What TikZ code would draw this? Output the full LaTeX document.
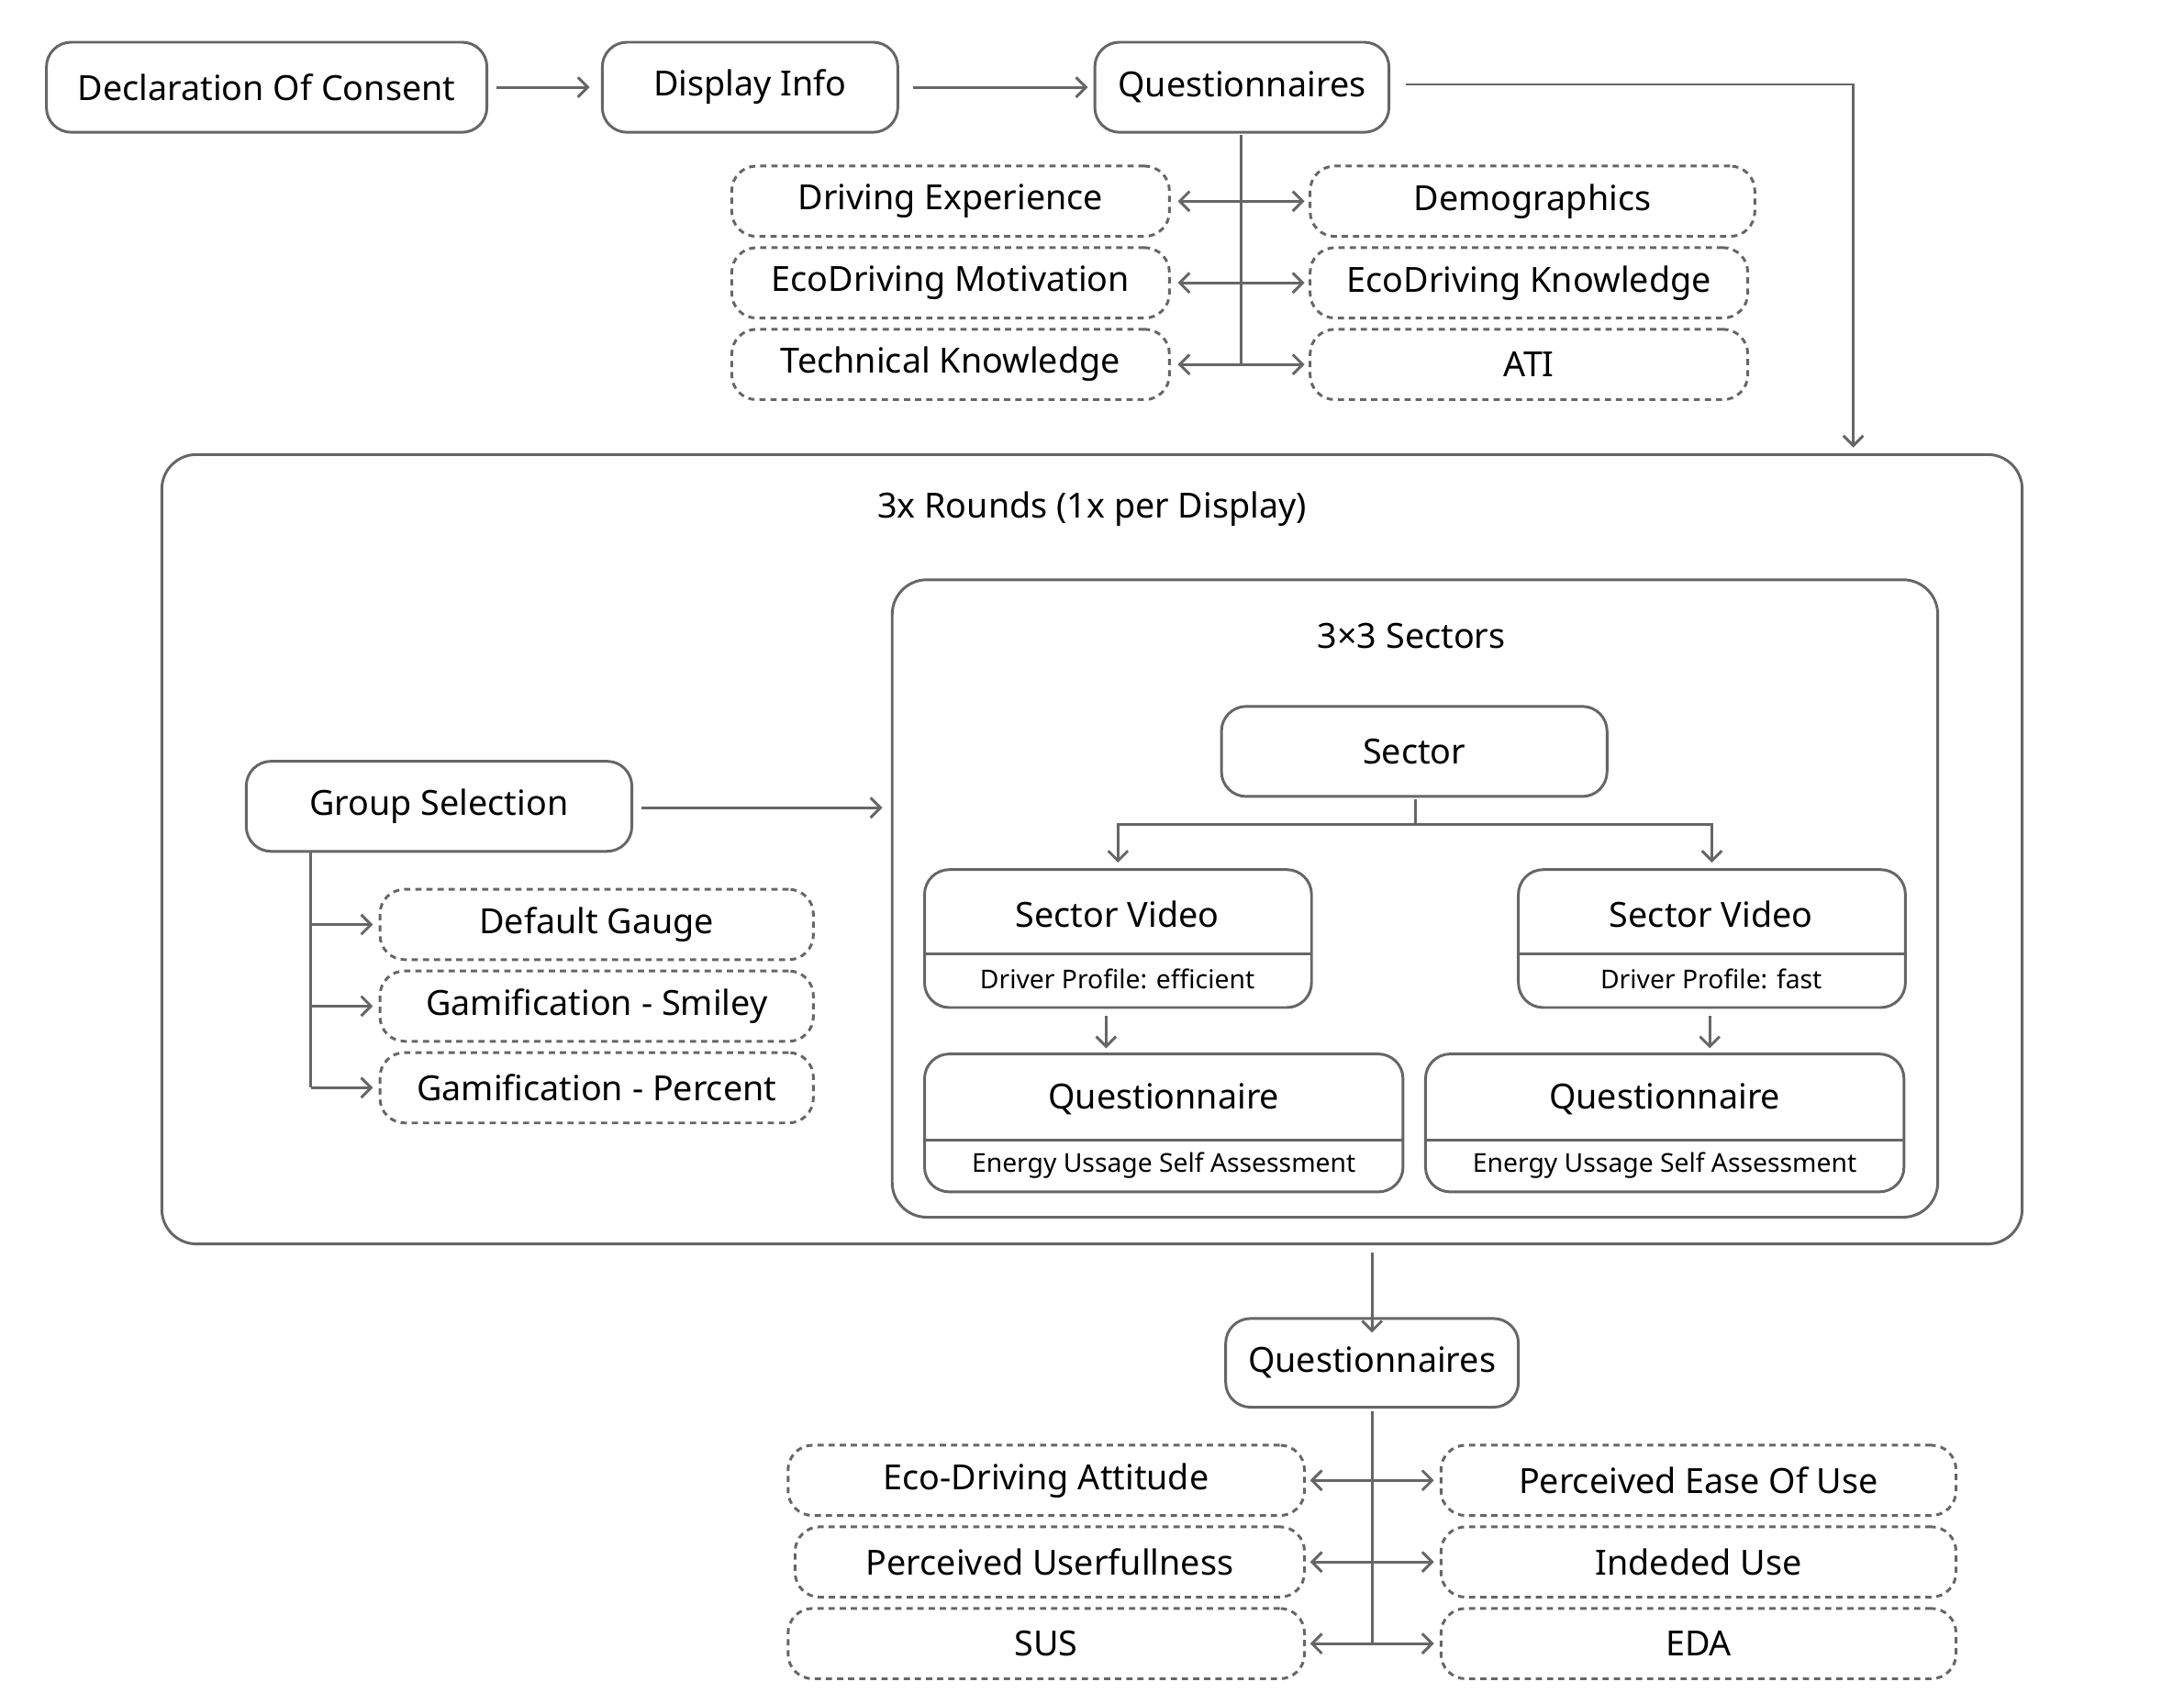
\documentclass[tikz,border=0pt]{standalone}
\usepackage{fontspec}
\setmainfont{Noto Sans}
\usetikzlibrary{arrows.meta}
\definecolor{ln}{HTML}{666666}
\tikzset{
 base/.style={draw=ln,line width=1.1pt,rounded corners=10pt,inner sep=0pt,font=\fontsize{14}{16}\selectfont,text=black},
 solid box/.style={base},
 dash box/.style={base,dash pattern=on 2.5pt off 2pt},
 arr/.style={draw=ln,line width=1.1pt,-{Straight Barb[length=4pt,width=8pt]}},
 darr/.style={draw=ln,line width=1.1pt,{Straight Barb[length=4pt,width=8pt]}-{Straight Barb[length=4pt,width=8pt]}},
 ln/.style={draw=ln,line width=1.1pt},
 ttl/.style={font=\fontsize{14}{16}\selectfont\bfseries},
 sub/.style={font=\fontsize{10.5}{12}\selectfont},
 big/.style={font=\fontsize{14}{16}\selectfont},
}
% name, x1,y1,x2,y2, style, text
\newcommand\bx[7]{\node[#6,minimum width={(#4-#2)*0.02cm},minimum height={(#5-#3)*0.02cm}] (#1) at ({(#2+#4)/2},{(#3+#5)/2}) {#7};}
\begin{document}
\begin{tikzpicture}[x=0.02cm,y=-0.02cm]
\useasboundingbox (0,0) rectangle (1552,1203);
% top row
\bx{doc}{33}{30}{346}{94}{solid box}{Declaration Of Consent}
\bx{di}{428}{30}{638}{94}{solid box}{Display Info}
\bx{q1}{778}{30}{987}{94}{solid box}{Questionnaires}
\draw[arr] (doc.east)++(6,0) -- ([xshift=-8*0.02cm]di.west);
\draw[arr] (di.east)++(10,0) -- ([xshift=-4*0.02cm]q1.west);
\coordinate (c1) at (1317,318);
\draw[arr] (q1.east)++(11,-2) -| (c1);
% questionnaires 1
\bx{de}{520}{118}{831}{168}{dash box}{Driving Experience}
\bx{em}{520}{176}{831}{226}{dash box}{EcoDriving Motivation}
\bx{tk}{520}{234}{831}{284}{dash box}{Technical Knowledge}
\bx{dm}{931}{118}{1247}{168}{dash box}{Demographics}
\bx{ek}{931}{176}{1242}{226}{dash box}{EcoDriving Knowledge}
\bx{ati}{931}{234}{1242}{284}{dash box}{ATI}
\coordinate (t1) at (882,96);
\coordinate (t1b) at (882,259);
\draw[ln] (t1) -- (t1b);
\foreach \l/\r/\y in {de/dm/143,em/ek/201,tk/ati/259}{
 \draw[arr] (882,\y) -- ([xshift=5*0.02cm]\l.east);
 \draw[arr] (882,\y) -- ([xshift=-3*0.02cm]\r.west);}
% outer box
\bx{outer}{115}{323}{1437}{884}{base,rounded corners=14pt}{}
\node[ttl] (t3) at (776,362) {3x Rounds (1x per Display)};
\bx{inner}{634}{412}{1377}{865}{base,rounded corners=14pt}{}
\node[ttl] (t33) at (1003,452) {3×3 Sectors};
% group selection
\bx{gs}{175}{541}{449}{605}{solid box}{Group Selection}
\draw[arr] (456,574) -- ([xshift=-6*0.02cm]inner.west|-0,574);
\bx{dg}{270}{632}{578}{682}{dash box}{Default Gauge}
\bx{gsm}{270}{690}{578}{740}{dash box}{Gamification - Smiley}
\bx{gp}{270}{748}{578}{798}{dash box}{Gamification - Percent}
\draw[ln] (221,605) -- (221,773);
\foreach \n/\y in {dg/657,gsm/715,gp/773}{\draw[arr] (221,\y) -- ([xshift=-4*0.02cm]\n.west);}
% sector
\bx{sec}{868}{502}{1142}{566}{solid box}{Sector}
\coordinate (sj) at (1006,586);
\draw[ln] (1006,568) -- (sj);
\bx{svl}{657}{618}{932}{716}{solid box}{}
\bx{svr}{1079}{618}{1354}{716}{solid box}{}
\draw[arr] (sj) -| ([yshift=4*0.02cm]svl.north);
\draw[arr] (sj) -| ([yshift=4*0.02cm]svr.north);
\draw[ln] (657,678) -- (932,678);
\draw[ln] (1079,678) -- (1354,678);
\node[big] (svlt) at (794,650) {Sector Video};
\node[sub] (svls) at (794,696) {Driver Profile: efficient};
\node[big] (svrt) at (1216,650) {Sector Video};
\node[sub] (svrs) at (1216,696) {Driver Profile: fast};
\bx{qsl}{657}{749}{997}{847}{solid box}{}
\bx{qsr}{1013}{749}{1353}{847}{solid box}{}
\draw[ln] (657,810) -- (997,810);
\draw[ln] (1013,810) -- (1353,810);
\node[big] (qlt) at (827,781) {Questionnaire};
\node[sub] (qls) at (827,828) {Energy Ussage Self Assessment};
\node[big] (qrt) at (1183,781) {Questionnaire};
\node[sub] (qrs) at (1183,828) {Energy Ussage Self Assessment};
\draw[arr] (786,722) -- (786,745);
\draw[arr] (1215,722) -- (1215,745);
% bottom
\bx{q2}{871}{937}{1079}{1000}{solid box}{Questionnaires}
\draw[arr] (975,890) -- ([yshift=-11*0.02cm]q2.north);
\bx{ea}{560}{1027}{927}{1077}{dash box}{Eco-Driving Attitude}
\bx{pu}{565}{1085}{927}{1135}{dash box}{Perceived Userfullness}
\bx{sus}{560}{1143}{927}{1193}{dash box}{SUS}
\bx{pe}{1024}{1027}{1390}{1077}{dash box}{Perceived Ease Of Use}
\bx{iu}{1024}{1085}{1390}{1135}{dash box}{Indeded Use}
\bx{eda}{1024}{1143}{1390}{1193}{dash box}{EDA}
\draw[ln] (975,1003) -- (975,1168);
\foreach \l/\r/\y in {ea/pe/1052,pu/iu/1110,sus/eda/1168}{
 \draw[arr] (975,\y) -- ([xshift=3*0.02cm]\l.east);
 \draw[arr] (975,\y) -- ([xshift=-4*0.02cm]\r.west);}
\end{tikzpicture}
\end{document}
